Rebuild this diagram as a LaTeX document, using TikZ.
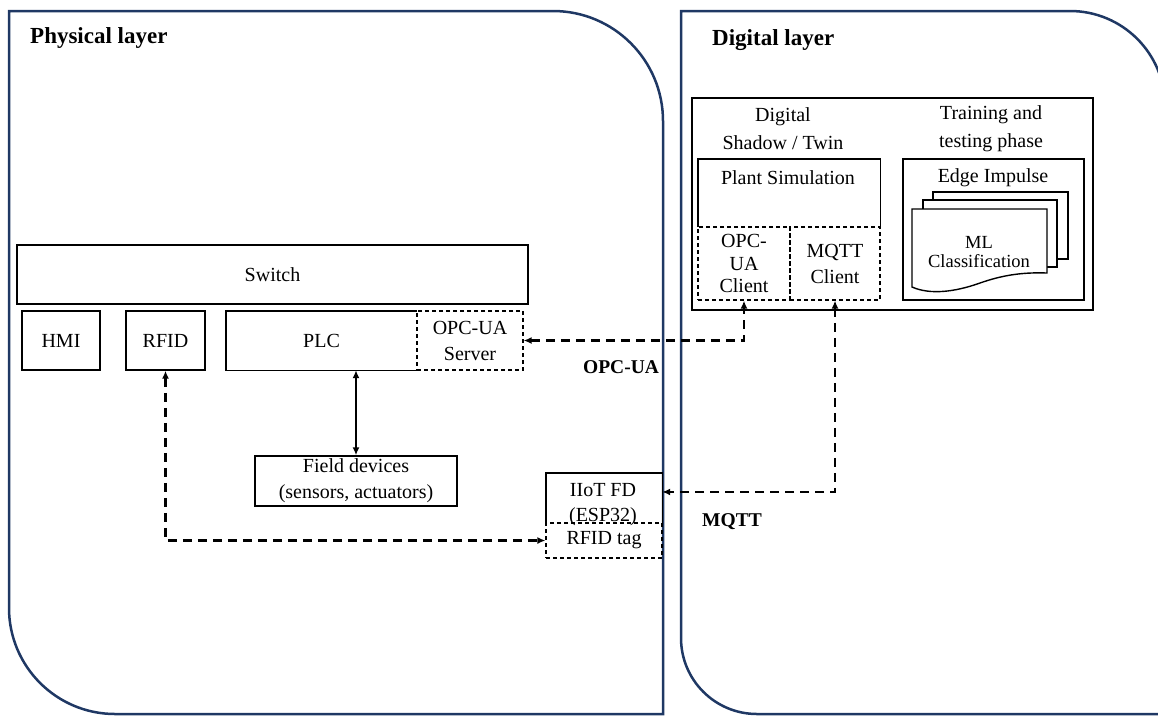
\documentclass[tikz,border=0pt]{standalone}
\usepackage{fontspec}
\setmainfont{Liberation Serif}
\usetikzlibrary{arrows.meta,calc}
\definecolor{layerblue}{RGB}{31,56,100}
\newcommand{\regtext}{\fontsize{20}{26}\selectfont}
\newcommand{\clienttext}{\fontsize{20}{22.5}\selectfont}
\newcommand{\mltext}{\fontsize{18.5}{19}\selectfont}
\newcommand{\headtext}{\fontsize{23}{28}\selectfont\bfseries}
\newcommand{\linktext}{\fontsize{19.5}{24}\selectfont\bfseries}
\tikzset{
  layer/.style={draw=layerblue, line width=2.5pt},
  box/.style={draw=black, line width=1.4pt, inner sep=0pt, align=center, font=\regtext},
  dbox/.style={box, line width=1.2pt, dash pattern=on 4pt off 3pt},
  hollow/.style={draw=none, inner sep=0pt, align=center, font=\regtext},
  edge/.style={draw=black, line width=1.4pt},
  doc/.style={draw=black, line width=1.4pt, fill=white},
  darrow/.style={draw=black, line width=2.5pt, dash pattern=on 9pt off 6pt,
    {Latex[length=8pt,width=7pt]}-{Latex[length=8pt,width=7pt]}},
  sarrow/.style={draw=black, line width=2.6pt,
    {Latex[length=8pt,width=7pt]}-{Latex[length=8pt,width=7pt]}},
  heading/.style={anchor=base west, inner sep=0pt, font=\headtext},
  linklabel/.style={inner sep=0pt, font=\linktext},
}
\begin{document}
\begin{tikzpicture}[x=1pt, y=-1pt]
\useasboundingbox (0,0) rectangle (1158,716);

% layer frames
\draw[layer] (9,11) -- (553,11) .. controls (613.75,11) and (663,60.25) .. (663,121)
  -- (663,714) -- (115,714) .. controls (56.5,714) and (9,666.5) .. (9,608) -- cycle;
\draw[layer] (681,11) -- (1070,11) .. controls (1122.5,11) and (1165,53.5) .. (1165,106)
  -- (1165,714) -- (757,714) .. controls (715,714) and (681,680) .. (681,638) -- cycle;

\node[heading] (phys) at (30,43) {Physical layer};
\node[heading] (dig) at (712,45) {Digital layer};

% physical layer devices
\node[box, minimum width=511, minimum height=59] (switch) at (272.5,274.5) {Switch};
\node[box, minimum width=78, minimum height=59] (hmi) at (61,340.5) {HMI};
\node[box, minimum width=79, minimum height=59] (rfid) at (165.5,340.5) {RFID};
\node[hollow, minimum width=191, minimum height=59] (plc) at (321.5,340.5) {PLC};
\draw[edge] (plc.north east) -- (plc.north west) -- (plc.south west) -- (plc.south east);
\node[dbox, minimum width=106, minimum height=59] (server) at (470,340.5) {OPC-UA\\Server};
\node[box, minimum width=202, minimum height=50] (field) at (356,481) {Field devices\\(sensors, actuators)};

\node[hollow, minimum width=116, minimum height=50] (iiot) at (604,498) {};
\draw[edge] (iiot.south west) -- (iiot.north west) -- (iiot.north east) -- (iiot.south east);
\node[hollow, font=\fontsize{20}{25}\selectfont] (iiottext) at (603,504.5) {IIoT FD\\(ESP32)};
\node[dbox, minimum width=116, minimum height=35] (tag) at (604,540.5) {RFID tag};

% digital layer
\node[box, minimum width=401, minimum height=212] (dshadow) at (892.5,204) {};
\node[hollow, font=\fontsize{20}{28}\selectfont] (dtitle) at (783,129) {Digital\\Shadow / Twin};
\node[hollow, font=\fontsize{20}{28}\selectfont] (ttitle) at (991,129) {Training and\\testing phase};

\node[hollow, minimum width=182, minimum height=68] (plant) at (789,193) {};
\draw[edge] (plant.south west) -- (plant.north west) -- (plant.north east) -- (plant.south east);
\node[hollow] (planttext) at (788,178) {Plant Simulation};
\node[dbox, minimum width=92, minimum height=73, font=\clienttext] (opcclient) at (744,263.5) {OPC-\\UA\\Client};
\node[dbox, minimum width=90, minimum height=73] (mqttclient) at (835,263.5) {MQTT\\Client};

\node[box, minimum width=181, minimum height=141] (edgeimp) at (993.5,229.5) {};
\node[hollow] (edgetext) at (993,178) {Edge Impulse};
\draw[doc] (933,192) rectangle (1068,259);
\draw[doc] (923,200) rectangle (1057,267);
\draw[doc] (912,209) -- (1047,209) -- (1047,273)
  .. controls (1020,272) and (1000,276) .. (980,283)
  .. controls (955,292) and (930,295) .. (912,287) -- cycle;
\node[hollow, font=\mltext] (ml) at (979,252) {ML\\Classification};

% links
\draw[sarrow] (field.north) -- (field.north |- plc.south);
\draw[darrow] (server.east) -| (opcclient.south);
\draw[darrow] (rfid.south) |- (tag.west);
\draw[darrow] (mqttclient.south) |- ($(iiot.north east)!0.38!(iiot.south east)$);

\node[linklabel] (opclabel) at (621,367) {OPC-UA};
\node[linklabel] (mqttlabel) at (732,522) {MQTT};
\end{tikzpicture}
\end{document}
